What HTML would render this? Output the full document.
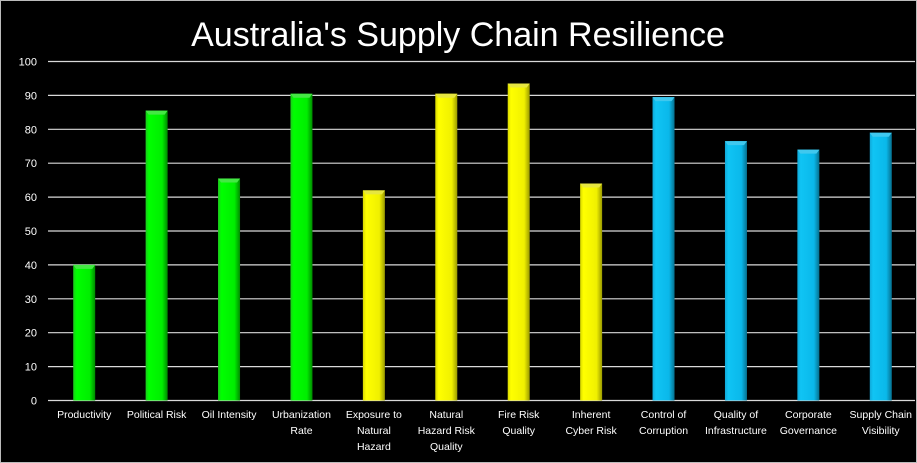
<!DOCTYPE html>
<html><head><meta charset="utf-8"><style>
html,body{margin:0;padding:0;background:#000;}
svg{display:block;}
</style></head><body>
<svg id="chart" width="917" height="463" xmlns="http://www.w3.org/2000/svg">
<defs>
<linearGradient id="gG" x1="0" x2="1" y1="0" y2="0"><stop offset="0" stop-color="#1ec81e"/><stop offset="0.15" stop-color="#00ff00"/><stop offset="0.75" stop-color="#00ee00"/><stop offset="1" stop-color="#008a00"/></linearGradient>
<linearGradient id="gY" x1="0" x2="1" y1="0" y2="0"><stop offset="0" stop-color="#d8d800"/><stop offset="0.15" stop-color="#ffff00"/><stop offset="0.75" stop-color="#f0f000"/><stop offset="1" stop-color="#9a9a00"/></linearGradient>
<linearGradient id="gB" x1="0" x2="1" y1="0" y2="0"><stop offset="0" stop-color="#10a8d8"/><stop offset="0.15" stop-color="#10c4f4"/><stop offset="0.75" stop-color="#0ab8ea"/><stop offset="1" stop-color="#06708f"/></linearGradient>
</defs>
<rect x="0.5" y="0.5" width="916" height="462" fill="#000" stroke="#bbb"/>
<text x="458" y="46" text-anchor="middle" fill="#fff" font-family="Liberation Sans, sans-serif" font-size="34">Australia's Supply Chain Resilience</text>
<g id="grid"></g><g id="bars"></g><g id="labels"></g>
</svg>
<script>
const categories=[["Productivity"],["Political Risk"],["Oil Intensity"],["Urbanization","Rate"],["Exposure to","Natural","Hazard"],["Natural","Hazard Risk","Quality"],["Fire Risk","Quality"],["Inherent","Cyber Risk"],["Control of","Corruption"],["Quality of","Infrastructure"],["Corporate","Governance"],["Supply Chain","Visibility"]];
const values=[40,85.5,65.5,90.5,62,90.5,93.5,64,89.5,76.5,74,79];
const groups=["G","G","G","G","Y","Y","Y","Y","B","B","B","B"];
const yTicks=[0,10,20,30,40,50,60,70,80,90,100];
const NS="http://www.w3.org/2000/svg";
const left=48,right=917,y0=400.5,y100=61.5;
const yS=v=>y0-(y0-y100)*v/100;
const step=(right-left)/categories.length;
const xC=i=>left+step*(i+0.5);
function mk(tag,attrs,parent){const e=document.createElementNS(NS,tag);for(const k in attrs)e.setAttribute(k,attrs[k]);parent.appendChild(e);return e;}
const grid=document.getElementById('grid'),bars=document.getElementById('bars'),labels=document.getElementById('labels');
yTicks.forEach(t=>{
 const l=mk('line',{x1:left,x2:915,y1:yS(t),y2:yS(t),stroke:'#d9d9d9','stroke-width':1.2},grid);
 
 
 const tx=mk('text',{x:37,y:yS(t)+4,'text-anchor':'end',fill:'#fff','font-family':'Liberation Sans, sans-serif','font-size':11},grid);
 tx.textContent=t;
 
 
});
const fills={G:'url(#gG)',Y:'url(#gY)',B:'url(#gB)'};
const tops={G:'#44e844',Y:'#e6e640',B:'#40c8ee'};
values.forEach((v,i)=>{
 const w=22,x=xC(i)-w/2,y=yS(v);
 const r=mk('rect',{x:x,y:y,width:w,height:y0-y,fill:fills[groups[i]]},bars);
 
 
 const p=mk('polygon',{points:`${x},${y} ${x+w},${y} ${x+w-3},${y+4} ${x+3},${y+4}`,fill:tops[groups[i]]},bars);
 
 
 const t=mk('text',{x:xC(i),y:418,'text-anchor':'middle',fill:'#fff','font-family':'Liberation Sans, sans-serif','font-size':10.5},labels);
 categories[i].forEach((ln,j)=>{const s=mk('tspan',{x:xC(i),dy:j?16:0},t);s.textContent=ln;});
 
 
});
</script>
</body></html>
